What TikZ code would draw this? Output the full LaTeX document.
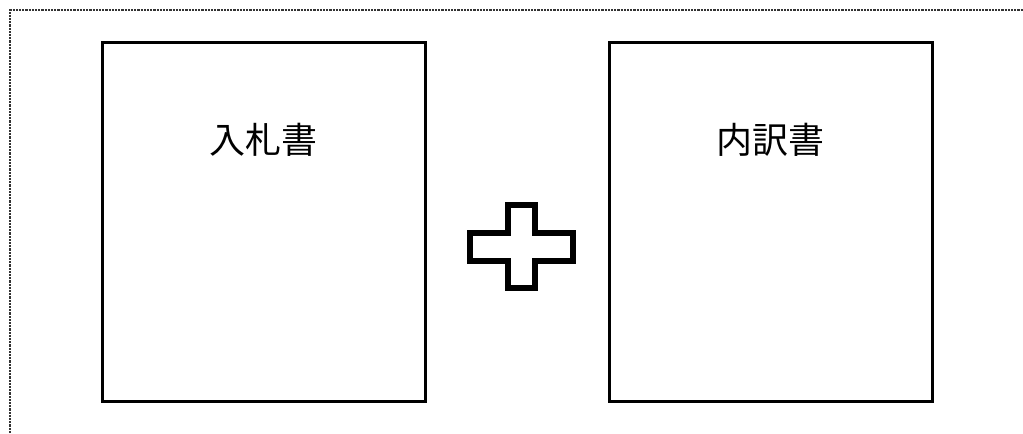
\documentclass[tikz,border=0pt]{standalone}
\usepackage{fontspec}
\newfontfamily\jpfont{Noto Sans CJK JP}
\usetikzlibrary{positioning}

\tikzset{
  docbox/.style={draw, line width=2.25pt, minimum width=241.9pt, minimum height=269.3pt, inner sep=0pt},
  doctitle/.style={font=\jpfont\fontsize{27}{30}\selectfont, inner sep=0pt},
  pagerule/.style={line width=2.2pt, black!80, dash pattern=on 1.6pt off 0.8pt},
}

\begin{document}
\begin{tikzpicture}[x=0.75pt,y=-0.75pt]
    \useasboundingbox (0,0) rectangle (1023,433);
    % page frame, dotted (top and left only)
    \draw[pagerule] (10,433) -- (10,10) -- (1023,10);
    % left document
    \node[docbox] (bid) at (263.75,222) {};
    \node[doctitle] (bidtitle) at ([yshift=-73.9pt]bid.north) {入札書};
    % right document
    \node[docbox] (detail) at (770.75,222) {};
    \node[doctitle] (detailtitle) at ([yshift=-73.9pt]detail.north) {内訳書};
    % plus sign between them
    \coordinate (plus) at (521.5,246.5);
    \draw[line width=4.5pt, line join=miter]
      ([shift={(-13.75,-41.5)}]plus) -- ([shift={(13.75,-41.5)}]plus)
      -- ([shift={(13.75,-14)}]plus) -- ([shift={(51.5,-14)}]plus)
      -- ([shift={(51.5,14)}]plus) -- ([shift={(13.75,14)}]plus)
      -- ([shift={(13.75,41.5)}]plus) -- ([shift={(-13.75,41.5)}]plus)
      -- ([shift={(-13.75,14)}]plus) -- ([shift={(-51.5,14)}]plus)
      -- ([shift={(-51.5,-14)}]plus) -- ([shift={(-13.75,-14)}]plus)
      -- cycle;
\end{tikzpicture}
\end{document}
